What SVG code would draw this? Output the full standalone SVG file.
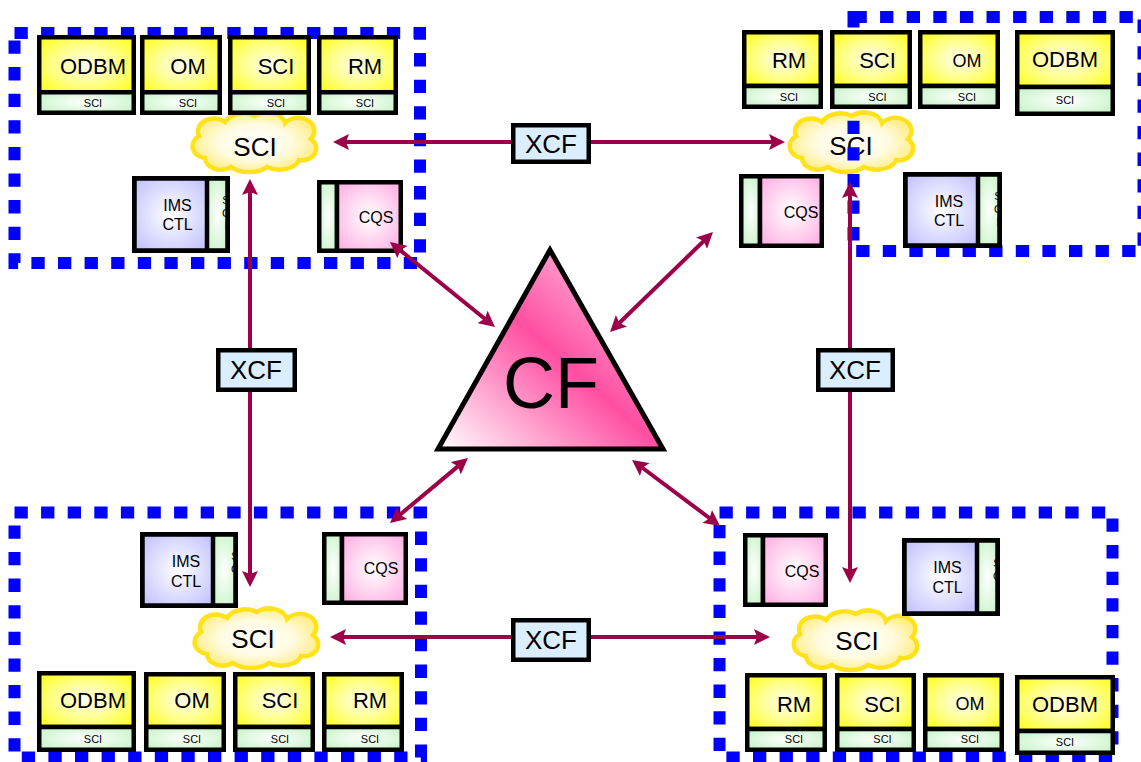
<svg xmlns="http://www.w3.org/2000/svg" width="1141" height="762" viewBox="0 0 1141 762">
<style>
.t{font-family:"Liberation Sans",Arial,sans-serif;text-anchor:middle;fill:#000}
.big{font-size:22px}
.mid{font-size:18px}
.sm{font-size:11px}
.ims{font-size:16px}
.cqs{font-size:16px}
.xt{font-size:26px}
.bx{stroke:#000;stroke-width:4.5}
.y{fill:url(#gY)}
.g{fill:url(#gG)}
.b{fill:url(#gB)}
.p{fill:url(#gP)}
.dash{fill:none;stroke:#0000ff;stroke-width:12;stroke-dasharray:13.3 13.3}
.cl{fill:url(#gC);stroke:#ffe21a;stroke-width:4.5}
.arr{stroke:#9c0048;stroke-width:4;fill:none;marker-start:url(#ah);marker-end:url(#ah)}
.xcf{fill:#dbeeff;stroke:#000;stroke-width:4.5}
</style>
<defs>
<radialGradient id="gY" cx="50%" cy="50%" r="65%"><stop offset="0" stop-color="#fffff0"/><stop offset="0.55" stop-color="#ffff88"/><stop offset="1" stop-color="#ffff22"/></radialGradient>
<radialGradient id="gG" cx="50%" cy="50%" r="65%"><stop offset="0" stop-color="#ffffff"/><stop offset="1" stop-color="#c6f3c6"/></radialGradient>
<radialGradient id="gB" cx="50%" cy="50%" r="65%"><stop offset="0" stop-color="#ffffff"/><stop offset="1" stop-color="#c2c2ff"/></radialGradient>
<radialGradient id="gP" cx="50%" cy="50%" r="65%"><stop offset="0" stop-color="#ffffff"/><stop offset="1" stop-color="#ffb0e4"/></radialGradient>
<radialGradient id="gC" cx="50%" cy="50%" r="60%"><stop offset="0" stop-color="#ffffff"/><stop offset="0.5" stop-color="#fffbe0"/><stop offset="1" stop-color="#ffe96a"/></radialGradient>
<linearGradient id="gCF" x1="0" y1="1" x2="1" y2="0"><stop offset="0" stop-color="#ffffff"/><stop offset="0.5" stop-color="#ff4ea2"/><stop offset="0.8" stop-color="#ffa6d0"/><stop offset="1" stop-color="#ffd4e8"/></linearGradient>
<marker id="ah" viewBox="0 0 16 16" refX="6" refY="8" markerWidth="16" markerHeight="16" markerUnits="userSpaceOnUse" orient="auto-start-reverse"><path d="M0,0 L16,8 L0,16 L3,8 z" fill="#9c0048"/></marker>
<path id="cloud" d="M -48,16 A 14 12 0 0 1 -54,-6 A 16 13 0 0 1 -28,-20 A 20 14 0 0 1 2,-26 A 18 13 0 0 1 32,-19 A 16 13 0 0 1 58,-3 A 14 12 0 0 1 46,18 A 20 12 0 0 1 14,25 A 22 12 0 0 1 -22,25 A 16 12 0 0 1 -48,16 Z"/>
</defs>
<rect width="1141" height="762" fill="#fff"/>

<!-- Top-left system -->
<g id="sys-tl">
<rect class="dash" x="14.5" y="33" width="405.5" height="230"/>
<g id="tl-cloud"><use href="#cloud" class="cl" transform="translate(253,142)"/><text class="t" x="255" y="156" font-size="26">SCI</text></g>
<g id="tl-odbm"><rect class="bx y" x="39.25" y="37.25" width="94.5" height="55"/><rect class="bx g" x="39.25" y="92.25" width="94.5" height="20.5"/><text class="t big" x="93" y="74">ODBM</text><text class="t sm" x="93" y="107">SCI</text></g>
<g id="tl-om"><rect class="bx y" x="142.25" y="37.25" width="77.5" height="55"/><rect class="bx g" x="142.25" y="92.25" width="77.5" height="20.5"/><text class="t big" x="188" y="74">OM</text><text class="t sm" x="188" y="107">SCI</text></g>
<g id="tl-sci"><rect class="bx y" x="230.25" y="37.25" width="78.5" height="55"/><rect class="bx g" x="230.25" y="92.25" width="78.5" height="20.5"/><text class="t big" x="276" y="74">SCI</text><text class="t sm" x="276" y="107">SCI</text></g>
<g id="tl-rm"><rect class="bx y" x="319.25" y="37.25" width="76.5" height="55"/><rect class="bx g" x="319.25" y="92.25" width="76.5" height="20.5"/><text class="t big" x="365" y="74">RM</text><text class="t sm" x="365" y="107">SCI</text></g>
<g id="tl-ims"><rect class="bx b" x="134.25" y="178.25" width="72.75" height="72.5"/><svg x="207" y="178" width="21" height="73"><rect class="bx g" x="0" y="0.25" width="20.75" height="72.5"/><text class="t" font-size="11" x="19" y="26">S</text><text class="t" font-size="11" x="19" y="39">C</text><text class="t" font-size="11" x="19" y="52">I</text></svg><rect x="134.25" y="178.25" width="93.5" height="72.5" fill="none" stroke="#000" stroke-width="4.5"/><text class="t ims" x="177.5" y="211">IMS</text><text class="t ims" x="177.5" y="230">CTL</text></g>
<g id="tl-cqs"><rect class="bx g" x="319.25" y="182.25" width="17.75" height="68.5"/><rect class="bx p" x="337" y="182.25" width="63.75" height="68.5"/><text class="t cqs" x="376" y="223">CQS</text></g>
</g>

<!-- Top-right system -->
<g id="sys-tr">
<g id="tr-cloud"><use href="#cloud" class="cl" transform="translate(850,142)"/><text class="t" x="851" y="155" font-size="26">SCI</text></g>
<rect class="dash" x="853.5" y="17" width="290" height="234"/>
<g id="tr-rm"><rect class="bx y" x="744.25" y="32.25" width="76.5" height="53.75"/><rect class="bx g" x="744.25" y="86" width="76.5" height="20.75"/><text class="t big" x="789" y="68">RM</text><text class="t sm" x="789" y="101">SCI</text></g>
<g id="tr-sci"><rect class="bx y" x="832.25" y="32.25" width="77.5" height="53.75"/><rect class="bx g" x="832.25" y="86" width="77.5" height="20.75"/><text class="t big" x="877.5" y="68">SCI</text><text class="t sm" x="877.5" y="101">SCI</text></g>
<g id="tr-om"><rect class="bx y" x="920.25" y="32.25" width="77.5" height="53.75"/><rect class="bx g" x="920.25" y="86" width="77.5" height="20.75"/><text class="t mid" x="967" y="67">OM</text><text class="t sm" x="967" y="101">SCI</text></g>
<g id="tr-odbm"><rect class="bx y" x="1017.25" y="32.25" width="95.5" height="54.75"/><rect class="bx g" x="1017.25" y="87" width="95.5" height="26.75"/><text class="t big" x="1065" y="67">ODBM</text><text class="t sm" x="1065" y="104">SCI</text></g>
<g id="tr-ims"><rect class="bx b" x="905.25" y="174.25" width="72.75" height="71.5"/><svg x="978" y="174" width="22" height="72"><rect class="bx g" x="0" y="0.25" width="21.75" height="71.5"/><text class="t" font-size="11" x="20" y="26">S</text><text class="t" font-size="11" x="20" y="39">C</text><text class="t" font-size="11" x="20" y="52">I</text></svg><rect x="905.25" y="174.25" width="94.5" height="71.5" fill="none" stroke="#000" stroke-width="4.5"/><text class="t ims" x="949" y="207">IMS</text><text class="t ims" x="949" y="226">CTL</text></g>
<g id="tr-cqs"><rect class="bx g" x="741.25" y="176.25" width="18.75" height="69.5"/><rect class="bx p" x="760" y="176.25" width="61.75" height="69.5"/><text class="t cqs" x="801" y="218">CQS</text></g>
</g>

<!-- Bottom-left system -->
<g id="sys-bl">
<rect class="dash" x="14.5" y="512.5" width="406.5" height="245"/>
<g id="bl-cloud"><use href="#cloud" class="cl" transform="translate(255,638)"/><text class="t" x="253" y="648" font-size="26">SCI</text></g>
<g id="bl-ims"><rect class="bx b" x="142.25" y="534.25" width="70.75" height="71.5"/><svg x="213" y="534" width="23" height="72"><rect class="bx g" x="0" y="0.25" width="22.75" height="71.5"/><text class="t" font-size="11" x="22" y="26">S</text><text class="t" font-size="11" x="22" y="39">C</text><text class="t" font-size="11" x="22" y="52">I</text></svg><rect x="142.25" y="534.25" width="93.5" height="71.5" fill="none" stroke="#000" stroke-width="4.5"/><text class="t ims" x="186" y="567">IMS</text><text class="t ims" x="186" y="587">CTL</text></g>
<g id="bl-cqs"><rect class="bx g" x="324.25" y="534.25" width="17.75" height="68.5"/><rect class="bx p" x="342" y="534.25" width="63.75" height="68.5"/><text class="t cqs" x="381" y="574">CQS</text></g>
<g id="bl-odbm"><rect class="bx y" x="39.25" y="673.25" width="94.5" height="53.75"/><rect class="bx g" x="39.25" y="727" width="94.5" height="22.75"/><text class="t big" x="93" y="708">ODBM</text><text class="t sm" x="93" y="743">SCI</text></g>
<g id="bl-om"><rect class="bx y" x="146.25" y="674.25" width="77.5" height="52.75"/><rect class="bx g" x="146.25" y="727" width="77.5" height="22.75"/><text class="t big" x="192" y="708">OM</text><text class="t sm" x="192" y="743">SCI</text></g>
<g id="bl-sci"><rect class="bx y" x="235.25" y="674.25" width="77.5" height="52.75"/><rect class="bx g" x="235.25" y="727" width="77.5" height="22.75"/><text class="t big" x="280" y="708">SCI</text><text class="t sm" x="280" y="743">SCI</text></g>
<g id="bl-rm"><rect class="bx y" x="324.25" y="674.25" width="77.5" height="52.75"/><rect class="bx g" x="324.25" y="727" width="77.5" height="22.75"/><text class="t big" x="370" y="708">RM</text><text class="t sm" x="370" y="743">SCI</text></g>
</g>

<!-- Bottom-right system -->
<g id="sys-br">
<rect class="dash" x="719.5" y="512.5" width="393" height="245"/>
<g id="br-cloud"><use href="#cloud" class="cl" transform="translate(854,640)"/><text class="t" x="857" y="650" font-size="26">SCI</text></g>
<g id="br-cqs"><rect class="bx g" x="745.25" y="535.25" width="17.75" height="69.5"/><rect class="bx p" x="763" y="535.25" width="62.75" height="69.5"/><text class="t cqs" x="802" y="577">CQS</text></g>
<g id="br-ims"><rect class="bx b" x="904.25" y="540.25" width="72.75" height="73.5"/><svg x="977" y="540" width="21" height="74"><rect class="bx g" x="0" y="0.25" width="20.75" height="73.5"/><text class="t" font-size="11" x="20" y="27">S</text><text class="t" font-size="11" x="20" y="40">C</text><text class="t" font-size="11" x="20" y="53">I</text></svg><rect x="904.25" y="540.25" width="93.5" height="73.5" fill="none" stroke="#000" stroke-width="4.5"/><text class="t ims" x="947.5" y="573">IMS</text><text class="t ims" x="947.5" y="593">CTL</text></g>
<g id="br-rm"><rect class="bx y" x="747.25" y="675.25" width="77.5" height="53.75"/><rect class="bx g" x="747.25" y="729" width="77.5" height="20.75"/><text class="t big" x="794" y="712">RM</text><text class="t sm" x="794" y="743">SCI</text></g>
<g id="br-sci"><rect class="bx y" x="837.25" y="675.25" width="76.5" height="53.75"/><rect class="bx g" x="837.25" y="729" width="76.5" height="20.75"/><text class="t big" x="882.5" y="712">SCI</text><text class="t sm" x="882.5" y="743">SCI</text></g>
<g id="br-om"><rect class="bx y" x="925.25" y="675.25" width="76.5" height="53.75"/><rect class="bx g" x="925.25" y="729" width="76.5" height="20.75"/><text class="t mid" x="970" y="710">OM</text><text class="t sm" x="970" y="743">SCI</text></g>
<g id="br-odbm"><rect class="bx y" x="1017.25" y="677.25" width="95.5" height="53.75"/><rect class="bx g" x="1017.25" y="731" width="95.5" height="21.75"/><text class="t big" x="1065" y="712">ODBM</text><text class="t sm" x="1065" y="746">SCI</text></g>
</g>

<!-- CF -->
<g id="cf">
<polygon points="550,250 438,449 663,449" fill="url(#gCF)" stroke="#000" stroke-width="5" stroke-linejoin="miter"/>
<text class="t" x="551" y="408" font-size="72">CF</text>
</g>

<!-- Connectors -->
<g id="connectors">
<line class="arr" x1="343" y1="142" x2="775" y2="142"/>
<line class="arr" x1="340" y1="637" x2="760" y2="637"/>
<line class="arr" x1="250" y1="189" x2="250" y2="577"/>
<line class="arr" x1="850" y1="192" x2="850" y2="573"/>
<line class="arr" x1="397.8" y1="248.3" x2="487.2" y2="320.7"/>
<line class="arr" x1="705.8" y1="239" x2="617.2" y2="325"/>
<line class="arr" x1="460.3" y1="464.4" x2="397.7" y2="516.6"/>
<line class="arr" x1="640" y1="466" x2="712" y2="520"/>
</g>

<!-- XCF labels -->
<g id="xcf-top"><rect class="xcf" x="513.25" y="125.25" width="75.5" height="36.5"/><text class="t xt" x="551" y="152.5">XCF</text></g>
<g id="xcf-bottom"><rect class="xcf" x="513.25" y="620.25" width="75.5" height="39.5"/><text class="t xt" x="551" y="649">XCF</text></g>
<g id="xcf-left"><rect class="xcf" x="218.25" y="350.25" width="76.5" height="39.5"/><text class="t xt" x="256" y="379">XCF</text></g>
<g id="xcf-right"><rect class="xcf" x="818.25" y="350.25" width="74.5" height="39.5"/><text class="t xt" x="855" y="379">XCF</text></g>
</svg>
